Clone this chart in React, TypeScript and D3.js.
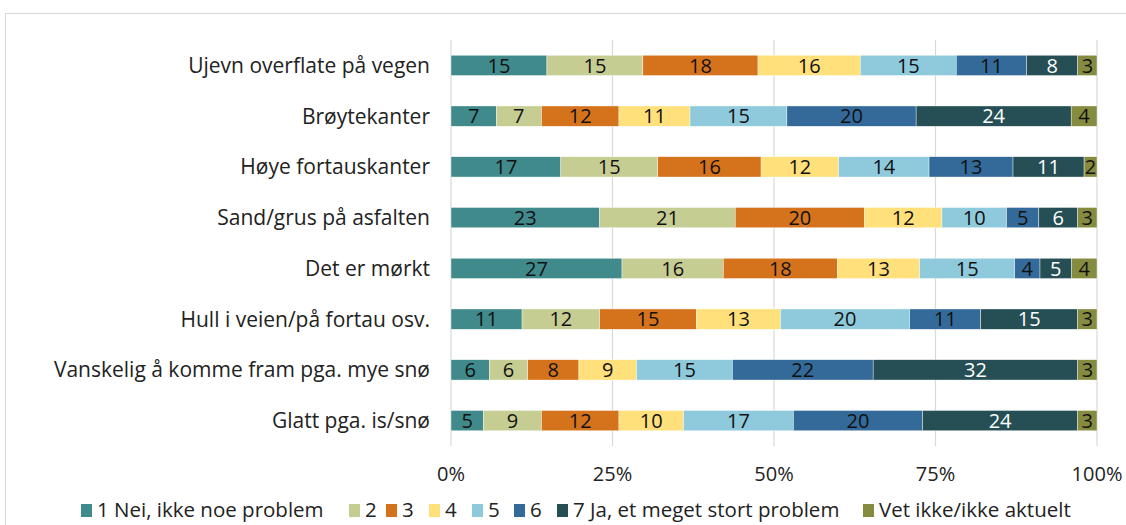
import React from "react";
import * as d3 from "d3";

const categories = [
  "Ujevn overflate på vegen",
  "Brøytekanter",
  "Høye fortauskanter",
  "Sand/grus på asfalten",
  "Det er mørkt",
  "Hull i veien/på fortau osv.",
  "Vanskelig å komme fram pga. mye snø",
  "Glatt pga. is/snø",
];

const seriesNames = [
  "1 Nei, ikke noe problem",
  "2",
  "3",
  "4",
  "5",
  "6",
  "7 Ja, et meget stort problem",
  "Vet ikke/ikke aktuelt",
];

const s1 = [15, 7, 17, 23, 27, 11, 6, 5];
const s2 = [15, 7, 15, 21, 16, 12, 6, 9];
const s3 = [18, 12, 16, 20, 18, 15, 8, 12];
const s4 = [16, 11, 12, 12, 13, 13, 9, 10];
const s5 = [15, 15, 14, 10, 15, 20, 15, 17];
const s6 = [11, 20, 13, 5, 4, 11, 22, 20];
const s7 = [8, 24, 11, 6, 5, 15, 32, 24];
const s8 = [3, 4, 2, 3, 4, 3, 3, 3];

const seriesValues = [s1, s2, s3, s4, s5, s6, s7, s8];

const colors = ["#408A8C", "#C6CD93", "#D5731D", "#FFE07A", "#8ECADC", "#346A9A", "#264F55", "#858C3F"];
const labelColors = ["#111", "#111", "#111", "#111", "#111", "#111", "#fff", "#111"];

const tickValues = [0, 0.25, 0.5, 0.75, 1];
const tickLabels = ["0%", "25%", "50%", "75%", "100%"];

const FONT = "'Open Sans', 'Noto Sans', sans-serif";

export default function App() {
  const W = 1126;
  const H = 525;
  const x = d3.scaleLinear().domain([0, 1]).range([451, 1097]);
  const y = d3.scaleBand<string>().domain(categories).range([40, 446]).paddingInner(0.6).paddingOuter(0.3);

  const rows = categories.map((c, i) => {
    const vals = seriesValues.map((s) => s[i]);
    const total = d3.sum(vals);
    let acc = 0;
    return vals.map((v, k) => {
      const x0 = acc / total;
      acc += v;
      const x1 = acc / total;
      return { c, k, v, x0, x1 };
    });
  });

  const legendX = [81, 349, 386, 429, 472, 514, 557, 863];

  return (
    <svg width={W} height={H} style={{ position: "absolute", left: 0, top: 0, background: "#fff" }} fontFamily={FONT}>
      <rect x={5.5} y={13.5} width={1140} height={540} fill="#fff" stroke="#d9d9d9" />
      {tickValues.map((t) => (
        <line key={t} x1={x(t)} x2={x(t)} y1={40} y2={446} stroke="#d9d9d9" strokeWidth={1.2} />
      ))}
      {rows.map((segs, i) =>
        segs.map((s) => {
          const bx = x(s.x0);
          const bw = x(s.x1) - x(s.x0);
          const by = y(s.c)!;
          const bh = y.bandwidth();
          return (
            <g key={i + "-" + s.k}>
              <rect x={bx} y={by} width={bw} height={bh} fill={colors[s.k]} stroke="#fff" strokeWidth={0.4} />
              <text
                x={bx + bw / 2}
                y={by + bh / 2}
                dy="0.36em"
                textAnchor="middle"
                fontSize={20}
                fill={labelColors[s.k]}
              >
                {s.v}
              </text>
            </g>
          );
        })
      )}
      {categories.map((c) => (
        <text key={c} x={430} y={y(c)! + y.bandwidth() / 2} dy="0.36em" textAnchor="end" fontSize={21} fill="#222">
          {c}
        </text>
      ))}
      {tickValues.map((t, i) => (
        <text key={t} x={x(t)} y={474} dy="0.36em" textAnchor="middle" fontSize={20} fill="#222">
          {tickLabels[i]}
        </text>
      ))}
      {seriesNames.map((n, k) => (
        <g key={n} transform={`translate(${legendX[k]},510)`}>
          <rect x={0} y={-6} width={11} height={13} fill={colors[k]} />
          <text x={16} y={0} dy="0.36em" fontSize={20.5} fill="#222">
            {n}
          </text>
        </g>
      ))}
    </svg>
  );
}
